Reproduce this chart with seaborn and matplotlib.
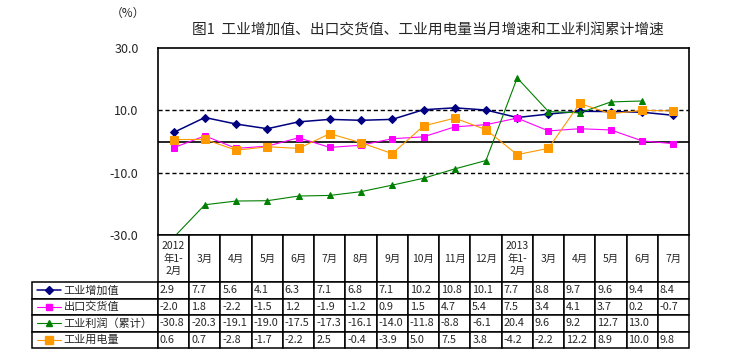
import numpy as np
import pandas as pd
import matplotlib
matplotlib.use("Agg")
import matplotlib.pyplot as plt
import seaborn as sns
from matplotlib.lines import Line2D

months = ["2012\n年1-\n2月", "3月", "4月", "5月", "6月", "7月", "8月", "9月", "10月",
          "11月", "12月", "2013\n年1-\n2月", "3月", "4月", "5月", "6月", "7月"]
added_value = [2.9, 7.7, 5.6, 4.1, 6.3, 7.1, 6.8, 7.1, 10.2, 10.8, 10.1, 7.7, 8.8, 9.7, 9.6, 9.4, 8.4]
export_value = [-2.0, 1.8, -2.2, -1.5, 1.2, -1.9, -1.2, 0.9, 1.5, 4.7, 5.4, 7.5, 3.4, 4.1, 3.7, 0.2, -0.7]
profit = [-30.8, -20.3, -19.1, -19.0, -17.5, -17.3, -16.1, -14.0, -11.8, -8.8, -6.1,
          20.4, 9.6, 9.2, 12.7, 13.0, np.nan]
power = [0.6, 0.7, -2.8, -1.7, -2.2, 2.5, -0.4, -3.9, 5.0, 7.5, 3.8, -4.2, -2.2, 12.2, 8.9, 10.0, 9.8]

names = ["工业增加值", "出口交货值", "工业利润（累计）", "工业用电量"]
yticks = [-30, -10, 10, 30]
title = "图1  工业增加值、出口交货值、工业用电量当月增速和工业利润累计增速"

colors = ["#000080", "#FF00FF", "#008000", "#FF9900"]
markers = ["D", "s", "^", "s"]
msizes = [4, 4.5, 5, 6]
lws = [1.1, 0.8, 0.8, 0.8]

sns.set_style("white")
plt.rcParams['font.family'] = ['Noto Sans CJK SC', 'DejaVu Sans']

W, H = 740, 361
# layout in pixels
plot_l, plot_r, plot_t, plot_b = 158, 689, 48, 235
table_b = 348
label_w = 126
head_h, row_h = 47, 16.5

fig = plt.figure(figsize=(W / 100, H / 100), dpi=100)
ax = fig.add_axes([plot_l / W, 1 - plot_b / H, (plot_r - plot_l) / W, (plot_b - plot_t) / H])

series = [added_value, export_value, profit, power]
x = np.arange(len(months))

# reference lines
ax.axhline(10, color="black", ls=(0, (3, 2)), lw=1, zorder=1)
ax.axhline(-10, color="black", ls=(0, (3, 2)), lw=1, zorder=1)
ax.axhline(0, color="black", lw=1.2, zorder=1)

for vals, c, m, ms, lw in zip(series, colors, markers, msizes, lws):
    sns.lineplot(x=x, y=vals, ax=ax, color=c, marker=m, markersize=ms,
                 linewidth=lw, markeredgecolor=c, zorder=3)

ax.set_xlim(-0.5, len(months) - 0.5)
ax.set_ylim(-30, 30)
ax.set_xticks([])
ax.set_yticks(yticks)
ax.set_yticklabels([f"{v:.1f}" for v in yticks], fontsize=9)
ax.tick_params(axis="y", length=0, pad=14)
for s in ax.spines.values():
    s.set_color("black")
    s.set_linewidth(1.2)

fig.text(428 / W, 1 - 30 / H, title, ha="center", va="center", fontsize=10.6)
fig.text(128 / W, 1 - 13 / H, "（%）", ha="center", va="center", fontsize=8.5)

# data table under the chart (bbox covers the data columns; row labels sit to the left)
tab_w = plot_r - plot_l
tab_h = table_b - plot_b
tax = fig.add_axes([plot_l / W, 1 - table_b / H, tab_w / W, tab_h / H])
tax.axis("off")

def fmt(v):
    return "" if pd.isna(v) else f"{v:.1f}"

cell_text = [[fmt(v) for v in s] for s in series]
tbl = tax.table(cellText=cell_text, rowLabels=names, colLabels=months,
                cellLoc="left", rowLoc="left", colLoc="center", bbox=[0, 0, 1, 1])
tbl._autoColumns = []
tbl.auto_set_font_size(False)
# sizes in axes units so the bbox scale is 1
for (r, c), cell in tbl.get_celld().items():
    cell.set_linewidth(1.1)
    cell.set_edgecolor("black")
    cell.set_height((head_h if r == 0 else row_h) / tab_h)
    if c == -1:
        cell.set_width(label_w / tab_w)
        cell.PAD = 0.25
        cell.get_text().set_fontsize(8)
    else:
        cell.set_width(1 / len(months))
        cell.PAD = 0.06
        cell.get_text().set_fontsize(7.8)
    if r == 0:
        cell.get_text().set_linespacing(1.25)
        cell.get_text().set_fontsize(7.5)

# legend keys inside the row label cells
key_x0 = plot_l - label_w + 5
key_x1 = plot_l - label_w + 29
for i, (c, m, ms, lw) in enumerate(zip(colors, markers, msizes, lws)):
    yc = 1 - (plot_b + head_h + row_h * (i + 0.5)) / H
    fig.add_artist(Line2D([key_x0 / W, key_x1 / W], [yc, yc], color=c, lw=lw,
                          transform=fig.transFigure, zorder=20))
    fig.add_artist(Line2D([(key_x0 + key_x1) / 2 / W], [yc], color=c, marker=m,
                          markersize=ms, markeredgecolor=c,
                          transform=fig.transFigure, zorder=21))

fig.savefig("out.png", dpi=100)
